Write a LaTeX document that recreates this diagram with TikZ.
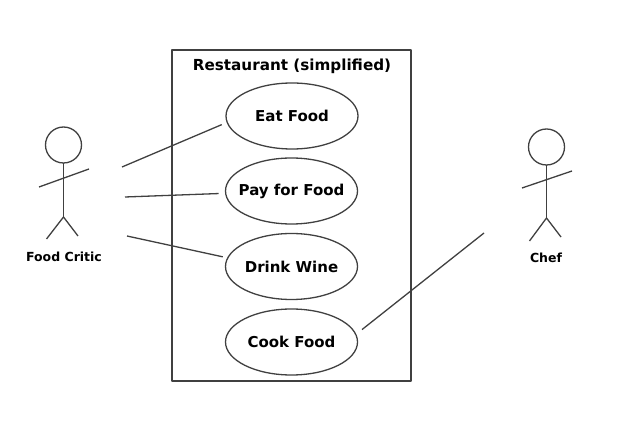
\documentclass[tikz,border=0pt]{standalone}
\usepackage{fontspec}
\setmainfont{DejaVu Sans}
\usetikzlibrary{shapes}
\definecolor{inkgray}{gray}{0.25}
\tikzset{
  usecase/.style={draw=inkgray,line width=1.3bp,ellipse,minimum width=132bp,minimum height=66bp,inner sep=-8bp,outer sep=5bp,font=\fontsize{15bp}{17bp}\selectfont\bfseries,text=black},
  head/.style={draw=inkgray,line width=1.3bp,circle,minimum size=36bp,inner sep=0pt,outer sep=0pt},
  limb/.style={draw=inkgray,line width=1.3bp},
  actorname/.style={font=\fontsize{12.5bp}{14bp}\selectfont\bfseries,text=black,inner sep=0pt},
  assoc/.style={draw=inkgray,line width=1.3bp},
}
\begin{document}
\begin{tikzpicture}[line join=bevel]
  \useasboundingbox (0bp,0bp) rectangle (640bp,434bp);
  \node (restaurant) at (291.5bp,218.5bp) [draw=inkgray,line width=1.4bp,minimum width=239bp,minimum height=331bp,inner sep=0pt] {};
  \node (title) at (292bp,367.5bp) [font=\fontsize{15.2bp}{17bp}\selectfont\bfseries,inner sep=0pt] {Restaurant (simplified)};
  \node (eat) at (292bp,318bp) [usecase,outer sep=6bp] {Eat Food};
  \node (pay) at (291.5bp,243bp) [usecase,outer sep=7bp] {Pay for Food};
  \node (drink) at (291.5bp,167.5bp) [usecase] {Drink Wine};
  \node (cook) at (291.5bp,92bp) [usecase,outer sep=8bp] {Cook Food};
  % food critic
  \node (critichead) at (63.5bp,289bp) [head] {};
  \coordinate (critichip) at (63.5bp,217bp);
  \coordinate (criticarml) at (39bp,247bp);
  \coordinate (criticarmr) at (89bp,265bp);
  \coordinate (criticlegl) at (46.5bp,195bp);
  \coordinate (criticlegr) at (78bp,198bp);
  \draw [limb] (critichead) -- (critichip);
  \draw [limb] (criticarml) -- (criticarmr);
  \draw [limb] (criticlegl) -- (critichip) -- (criticlegr);
  \node (critic) at (64bp,177.5bp) [actorname] {Food Critic};
  % chef
  \node (chefhead) at (546.5bp,287bp) [head] {};
  \coordinate (chefhip) at (546.5bp,216bp);
  \coordinate (chefarml) at (522bp,246bp);
  \coordinate (chefarmr) at (572bp,263bp);
  \coordinate (cheflegl) at (529.5bp,193bp);
  \coordinate (cheflegr) at (561bp,197bp);
  \draw [limb] (chefhead) -- (chefhip);
  \draw [limb] (chefarml) -- (chefarmr);
  \draw [limb] (cheflegl) -- (chefhip) -- (cheflegr);
  \node (chef) at (546bp,176.5bp) [actorname] {Chef};
  % associations
  \coordinate (criticeat) at (122bp,267bp);
  \coordinate (criticpay) at (125bp,237bp);
  \coordinate (criticdrink) at (127bp,198bp);
  \coordinate (chefcook) at (484bp,201bp);
  \draw [assoc] (criticeat) -- (eat.187.3);
  \draw [assoc] (criticpay) -- (pay.182.4);
  \draw [assoc] (criticdrink) -- (drink.172.5);
  \draw [assoc] (chefcook) -- (cook.10.4);
\end{tikzpicture}
\end{document}
